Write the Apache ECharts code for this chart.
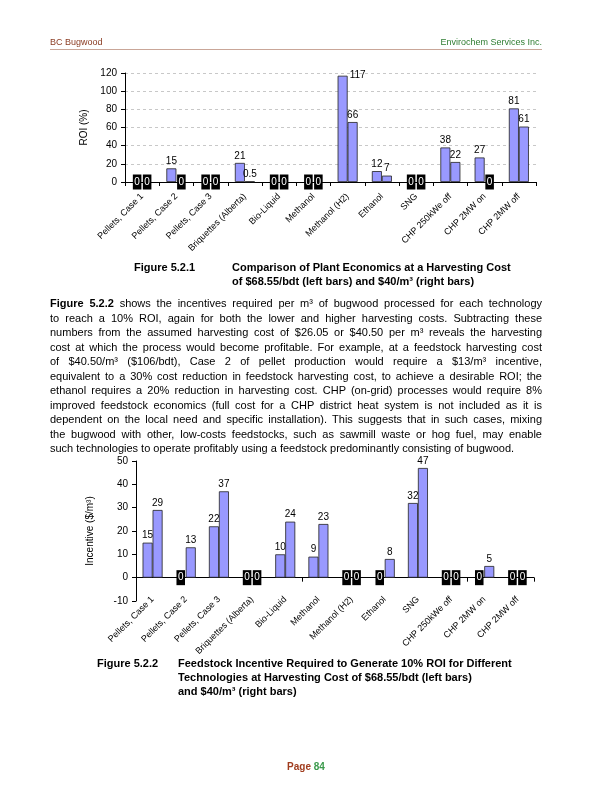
<!DOCTYPE html>
<html>
<head>
<meta charset="utf-8">
<script src="https://cdn.jsdelivr.net/npm/echarts@6/dist/echarts.min.js"></script>
<style>
html,body{margin:0;padding:0;background:#fff;}
#page{position:relative;width:612px;height:792px;overflow:hidden;font-family:"Liberation Sans",Arial,sans-serif;color:#000;}
#chart{position:absolute;left:0;top:0;width:612px;height:792px;}
.t{position:absolute;white-space:nowrap;}
.hdr{font-size:9px;top:37px;}
.rule{position:absolute;left:50px;top:49px;width:492px;height:0;border-top:1.5px solid #c9a698;}
.para{position:absolute;left:50px;top:296px;width:492px;font-size:11px;line-height:14.5px;}
.para div{text-align:justify;text-align-last:justify;white-space:nowrap;}
.para div.last{text-align:left;text-align-last:left;}
.cap{font-size:11px;font-weight:bold;line-height:14px;}
</style>
</head>
<body>
<div id="page">
  <div id="chart"></div>
  <div class="t hdr" style="left:50px;color:#8a3b22;">BC Bugwood</div>
  <div class="t hdr" style="right:70px;color:#2f7d32;">Envirochem Services Inc.</div>
  <div class="rule"></div>

  <div class="t cap" style="left:134px;top:260px;">Figure 5.2.1</div>
  <div class="t cap" style="left:232px;top:260px;">Comparison of Plant Economics at a Harvesting Cost<br>of $68.55/bdt (left bars) and $40/m³ (right bars)</div>

  <div class="para">
    <div><b>Figure 5.2.2</b> shows the incentives required per m³ of bugwood processed for each technology</div>
    <div>to reach a 10% ROI, again for both the lower and higher harvesting costs. Subtracting these</div>
    <div>numbers from the assumed harvesting cost of $26.05 or $40.50 per m³ reveals the harvesting</div>
    <div>cost at which the process would become profitable. For example, at a feedstock harvesting cost</div>
    <div>of $40.50/m³ ($106/bdt), Case 2 of pellet production would require a $13/m³ incentive,</div>
    <div>equivalent to a 30% cost reduction in feedstock harvesting cost, to achieve a desirable ROI; the</div>
    <div>ethanol requires a 20% reduction in harvesting cost. CHP (on-grid) processes would require 8%</div>
    <div>improved feedstock economics (full cost for a CHP district heat system is not included as it is</div>
    <div>dependent on the local need and specific installation). This suggests that in such cases, mixing</div>
    <div>the bugwood with other, low-costs feedstocks, such as sawmill waste or hog fuel, may enable</div>
    <div class="last">such technologies to operate profitably using a feedstock predominantly consisting of bugwood.</div>
  </div>

  <div class="t cap" style="left:97px;top:656px;">Figure 5.2.2</div>
  <div class="t cap" style="left:178px;top:656px;">Feedstock Incentive Required to Generate 10% ROI for Different<br>Technologies at Harvesting Cost of $68.55/bdt (left bars)<br>and $40/m³ (right bars)</div>

  <div class="t" style="left:0;width:612px;top:761px;text-align:center;font-size:10px;font-weight:bold;"><span style="color:#a03c1e;">Page</span> <span style="color:#3b9a4c;">84</span></div>
</div>
<script>
const categories = ['Pellets, Case 1', 'Pellets, Case 2', 'Pellets, Case 3', 'Briquettes (Alberta)', 'Bio-Liquid', 'Methanol', 'Methanol (H2)', 'Ethanol', 'SNG', 'CHP 250kWe off', 'CHP 2MW on', 'CHP 2MW off'];
const roiLeft  = [0, 15, 0, 21, 0, 0, 117, 12, 0, 38, 27, 81];
const roiRight = [0, 0, 0, 0.5, 0, 0, 66, 7, 0, 22, 0, 61];
const incLeft  = [15, 0, 22, 0, 10, 9, 0, 0, 32, 0, 0, 0];
const incRight = [29, 13, 37, 0, 24, 23, 0, 8, 47, 0, 5, 0];

const FONT = 'Liberation Sans';
const BAR = '#9999ff';

function toData(vals) {
  return vals.map(function (v) {
    if (v === 0) {
      return {
        value: 0,
        itemStyle: { borderWidth: 0 },
        label: { position: 'inside', backgroundColor: '#000', color: '#fff', padding: [3, 1.5, 2, 1.5], fontSize: 10 }
      };
    }
    return v;
  });
}

const d0 = toData(roiLeft);
// the tallest value label sits beside its bar, as in the reference
const maxIdx = roiLeft.indexOf(Math.max.apply(null, roiLeft));
d0[maxIdx] = { value: roiLeft[maxIdx], label: { position: [12, 0], align: 'left', verticalAlign: 'middle' } };

const barBase = {
  type: 'bar', barWidth: 10, barGap: '0%',
  itemStyle: { color: BAR, borderColor: '#222', borderWidth: 0.8 },
  label: { show: true, position: 'top', distance: 2, fontSize: 10, color: '#000', fontFamily: FONT },
  animation: false
};

const axisLbl = { fontSize: 10, color: '#000', fontFamily: FONT };
const catLbl = { rotate: 45, interval: 0, fontSize: 9, color: '#000', fontFamily: FONT };

const option = {
  animation: false,
  textStyle: { fontFamily: FONT },
  grid: [
    { left: 125, top: 73, width: 411, height: 109 },
    { left: 136, top: 461, width: 398, height: 140 }
  ],
  xAxis: [
    { gridIndex: 0, type: 'category', data: categories,
      axisLine: { lineStyle: { color: '#000', width: 1 } },
      axisTick: { show: true, length: 4, lineStyle: { color: '#000' } },
      axisLabel: Object.assign({}, catLbl, { margin: 13 }) },
    { gridIndex: 1, type: 'category', data: categories,
      axisLine: { onZero: true, lineStyle: { color: '#000', width: 1 } },
      axisTick: { show: true, length: 4, lineStyle: { color: '#000' } },
      axisLabel: { show: false } },
    { gridIndex: 1, type: 'category', data: categories, position: 'bottom',
      axisLine: { show: false, onZero: false }, axisTick: { show: false },
      axisLabel: Object.assign({}, catLbl, { margin: -3 }) }
  ],
  yAxis: [
    { gridIndex: 0, type: 'value', min: 0, max: 120, interval: 20,
      name: 'ROI (%)', nameLocation: 'middle', nameRotate: 90, nameGap: 26,
      nameTextStyle: { fontSize: 10, color: '#000', fontFamily: FONT },
      axisLine: { show: true, lineStyle: { color: '#000' } },
      axisTick: { show: true, length: 4, lineStyle: { color: '#000' } },
      axisLabel: axisLbl,
      splitLine: { show: true, lineStyle: { type: [3, 3], color: '#c8c8c8' } } },
    { gridIndex: 1, type: 'value', min: -10, max: 50, interval: 10,
      name: 'Incentive ($/m³)', nameLocation: 'middle', nameRotate: 90, nameGap: 41,
      nameTextStyle: { fontSize: 10, color: '#000', fontFamily: FONT },
      axisLine: { show: true, lineStyle: { color: '#000' } },
      axisTick: { show: true, length: 4, lineStyle: { color: '#000' } },
      axisLabel: axisLbl,
      splitLine: { show: false } }
  ],
  series: [
    Object.assign({}, barBase, { xAxisIndex: 0, yAxisIndex: 0, data: d0 }),
    Object.assign({}, barBase, { xAxisIndex: 0, yAxisIndex: 0, data: toData(roiRight) }),
    Object.assign({}, barBase, { xAxisIndex: 1, yAxisIndex: 1, data: toData(incLeft) }),
    Object.assign({}, barBase, { xAxisIndex: 1, yAxisIndex: 1, data: toData(incRight) })
  ]
};

const chart = echarts.init(document.getElementById('chart'), null, { renderer: 'canvas' });
chart.setOption(option);
</script>
</body>
</html>
